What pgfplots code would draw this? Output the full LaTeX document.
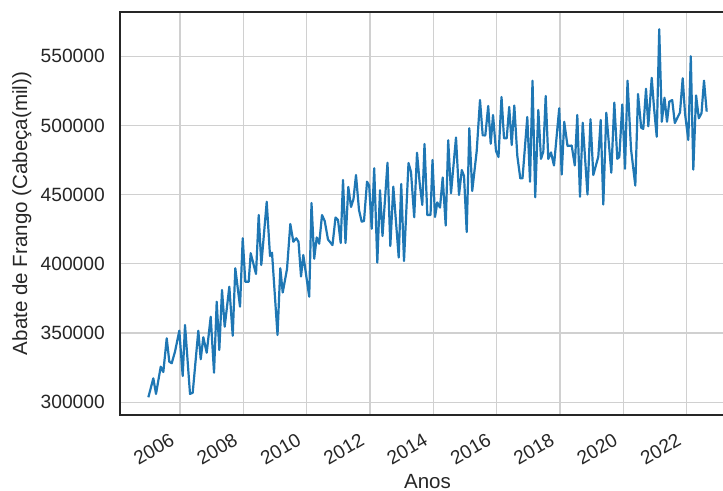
\documentclass[border=0pt]{standalone}
\usepackage{fontspec}
\setmainfont{Liberation Sans}
\usepackage{pgfplots}
\pgfplotsset{compat=1.18}
\usepackage{pgfplotstable}
\definecolor{sbblue}{HTML}{1F77B4}
\definecolor{gridgray}{HTML}{D0D0D0}
\definecolor{spine}{HTML}{262626}
\pgfplotstableread{
x y
2005.000 303600
2005.157 317300
2005.242 306000
2005.391 325700
2005.473 321900
2005.580 346200
2005.662 329300
2005.738 328200
2005.842 336600
2005.978 351700
2006.085 319000
2006.158 355800
2006.316 306000
2006.401 306900
2006.578 351700
2006.654 331100
2006.736 347000
2006.843 335800
2006.969 361800
2007.074 321400
2007.159 372700
2007.241 337800
2007.326 381100
2007.411 354600
2007.557 383500
2007.664 348100
2007.746 396800
2007.895 369100
2007.980 418500
2008.062 387100
2008.169 387100
2008.232 407700
2008.400 392700
2008.485 435300
2008.567 399200
2008.738 444900
2008.842 405700
2008.905 408100
2009.079 348600
2009.167 396800
2009.243 379300
2009.379 396300
2009.483 428800
2009.578 416000
2009.672 418500
2009.742 416000
2009.821 390900
2009.893 406400
2010.080 376300
2010.152 444000
2010.237 403700
2010.316 419100
2010.395 414600
2010.484 435300
2010.569 431000
2010.673 417600
2010.815 413600
2010.910 433500
2010.989 431700
2011.074 415100
2011.147 460600
2011.226 415100
2011.314 455600
2011.400 441100
2011.478 446900
2011.557 464200
2011.652 438900
2011.737 430500
2011.810 431000
2011.905 459400
2011.974 456600
2012.053 425400
2012.132 469100
2012.230 400900
2012.315 453200
2012.394 420200
2012.552 473100
2012.641 412900
2012.735 455800
2012.906 404600
2012.985 457700
2013.073 402100
2013.215 472900
2013.294 466400
2013.395 433700
2013.484 480300
2013.569 458100
2013.651 442600
2013.720 486600
2013.809 435300
2013.910 435300
2013.973 475100
2014.052 433900
2014.125 444400
2014.210 440700
2014.295 462400
2014.390 427700
2014.469 489300
2014.557 451000
2014.715 491300
2014.810 449800
2014.898 467800
2014.968 463500
2015.053 423000
2015.135 498000
2015.227 452700
2015.369 481600
2015.473 518400
2015.558 492900
2015.640 492800
2015.732 514100
2015.811 486800
2015.884 507600
2015.978 481600
2016.057 477200
2016.152 520600
2016.231 490700
2016.316 490700
2016.395 513400
2016.474 485900
2016.556 514400
2016.651 478000
2016.745 461800
2016.815 461800
2016.966 506100
2017.052 459400
2017.131 532400
2017.216 448100
2017.314 511200
2017.399 475900
2017.472 481100
2017.547 521300
2017.629 475800
2017.715 480500
2017.809 471100
2017.974 512400
2018.053 464600
2018.132 502700
2018.236 485200
2018.368 485500
2018.466 471100
2018.545 507600
2018.630 448500
2018.716 502000
2018.867 450100
2018.962 504500
2019.050 464200
2019.208 477400
2019.284 504000
2019.366 442900
2019.461 509200
2019.619 465900
2019.714 516500
2019.808 475900
2019.872 477200
2019.966 515200
2020.052 468700
2020.131 532400
2020.241 483000
2020.377 456600
2020.462 522700
2020.563 498300
2020.629 497600
2020.715 526500
2020.787 499400
2020.895 534400
2020.967 513000
2021.053 491900
2021.132 569500
2021.214 502700
2021.299 520000
2021.378 502700
2021.450 517200
2021.542 518400
2021.624 501800
2021.788 509400
2021.873 534100
2021.946 508800
2022.050 489500
2022.129 550000
2022.208 468100
2022.296 521700
2022.382 505200
2022.467 508800
2022.546 532400
2022.631 510000
}\abate
\begin{document}
\fontsize{14.4}{17}\selectfont
\begin{tikzpicture}
\begin{axis}[
  scale only axis, width=461.25pt, height=302.25pt,
  xmin=2004.105, xmax=2023.525, ymin=290800, ymax=582000,
  axis line style={spine, line width=1.5pt},
  grid=major, major grid style={gridgray, line width=0.9pt},
  major tick length=0pt,
  xtick={2006,2008,2010,2012,2014,2016,2018,2020,2022},
  xticklabels={2006,2008,2010,2012,2014,2016,2018,2020,2022},
  ytick={300000,350000,400000,450000,500000,550000},
  yticklabels={300000,350000,400000,450000,500000,550000},
  scaled ticks=false,
  tick label style={font=\fontsize{14.4}{17}\selectfont, text=spine},
  label style={font=\fontsize{15.4}{18}\selectfont, text=spine},
  yticklabel style={anchor=east, inner sep=0pt, xshift=-11.25pt},
  xticklabel style={inner sep=0pt, xshift=-8.25pt, yshift=-12.75pt, rotate=30, anchor=north east},
  xlabel={Anos}, ylabel={Abate de Frango (Cabeça(mil))},
  xlabel style={at={(axis description cs:0.5,-0.183)}, anchor=base, inner sep=0pt},
  ylabel style={at={(axis description cs:-0.1594,0.5)}, anchor=center},
]
\addplot[sbblue, line width=1.65pt, line join=round, mark=none] table[x=x,y=y] {\abate};
\end{axis}
\pgfresetboundingbox
\path[use as bounding box] (-90pt,-56.25pt) rectangle (452.25pt,311.25pt);
\end{tikzpicture}
\end{document}
